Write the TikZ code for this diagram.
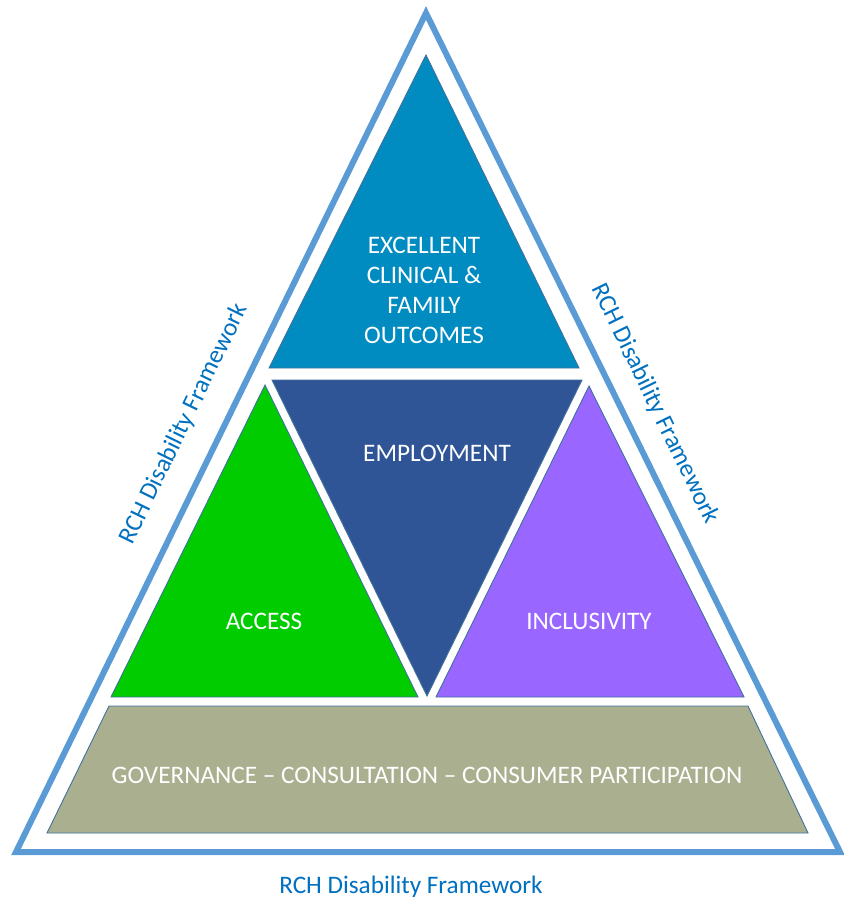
\documentclass[tikz,border=0pt]{standalone}
\usepackage{fontspec}
\setmainfont{Carlito}
\definecolor{frameblue}{HTML}{5B9BD5}
\definecolor{labelblue}{HTML}{0070C0}
\definecolor{edgeblue}{HTML}{41719C}
\definecolor{topblue}{HTML}{008CC1}
\definecolor{navy}{HTML}{2F5597}
\definecolor{brightgreen}{HTML}{00CC00}
\definecolor{violet}{HTML}{9966FF}
\definecolor{olive}{HTML}{AAB08F}
\begin{document}
\begin{tikzpicture}[x=1pt,y=-1pt,
  frame/.style={draw=frameblue,line width=6pt,line join=miter},
  piece/.style={draw=edgeblue,line width=0.9pt,line join=miter},
  inner/.style={text=white,font=\fontsize{25.2}{30}\selectfont,align=center,inner sep=0pt},
  caption/.style={text=labelblue,font=\fontsize{25.2}{30}\selectfont,inner sep=0pt}]
\useasboundingbox (0,0) rectangle (843,899);

% outer frame
\draw[frame] (426,13) -- (840,852) -- (16,852) -- cycle;

% building blocks
\draw[piece,fill=topblue] (426,55) -- (579,368) -- (269,368) -- cycle;
\draw[piece,fill=navy] (272,380) -- (582,380) -- (427,696) -- cycle;
\draw[piece,fill=brightgreen] (265,385) -- (418,697) -- (111,697) -- cycle;
\draw[piece,fill=violet] (589,386) -- (744,697) -- (436,697) -- cycle;
\draw[piece,fill=olive] (109,706) -- (748,706) -- (808,833) -- (47,833) -- cycle;

% block texts
\node[inner,anchor=base] (excellent) at (424,253) {EXCELLENT};
\node[inner,anchor=base] (clinical) at (424,283) {CLINICAL \&};
\node[inner,anchor=base] (family) at (424,313) {FAMILY};
\node[inner,anchor=base] (outcomes) at (424,343) {OUTCOMES};
\node[inner,anchor=base] (employment) at (437,461) {EMPLOYMENT};
\node[inner] (access) at (264,621) {ACCESS};
\node[inner] (inclusivity) at (589,621) {INCLUSIVITY};
\node[inner] (governance) at (427,775) {GOVERNANCE -- CONSULTATION -- CONSUMER PARTICIPATION};

% frame captions
\node[caption,rotate=64] (leftcap) at (184,424) {RCH Disability Framework};
\node[caption,rotate=-64] (rightcap) at (655,404) {RCH Disability Framework};
\node[caption] (bottomcap) at (411,887) {RCH Disability Framework};
\end{tikzpicture}
\end{document}
